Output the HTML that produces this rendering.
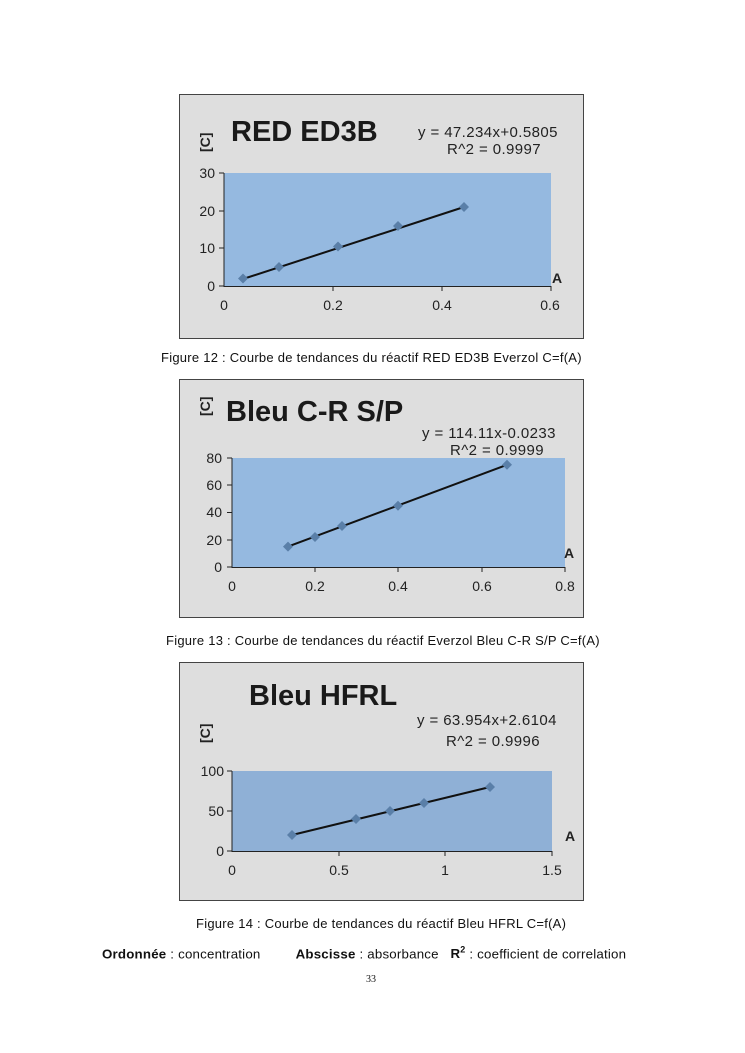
<!DOCTYPE html>
<html><head><meta charset="utf-8"><style>
body{margin:0;background:#fff;width:745px;height:1053px;position:relative;overflow:hidden}
svg{position:absolute;left:0;top:0}
.cap{position:absolute;font-family:"Liberation Sans",sans-serif;font-size:13px;letter-spacing:0.25px;color:#111;white-space:nowrap}
.eq{font-size:15px;letter-spacing:0.4px}
</style></head><body>
<svg width="745" height="1053" font-family="Liberation Sans, sans-serif">
<!-- Chart 1 -->
<rect x="179.5" y="94.5" width="404" height="244" fill="#dedede" stroke="#444" stroke-width="1"/>
<rect x="224" y="173" width="327" height="113" fill="#95b9e0"/>
<text x="231" y="141" font-size="29" font-weight="bold" fill="#1a1a1a">RED ED3B</text>
<text x="418" y="137" class="eq" fill="#222">y = 47.234x+0.5805</text>
<text x="447" y="154" class="eq" fill="#222">R^2 = 0.9997</text>
<text transform="translate(210,152) rotate(-90)" font-size="14" font-weight="bold" fill="#222">[C]</text>
<g stroke="#222" stroke-width="1"><line x1="224" y1="173" x2="224" y2="287"/><line x1="224" y1="286.5" x2="551" y2="286.5"/>
<line x1="219" y1="173" x2="224" y2="173"/><line x1="219" y1="211" x2="224" y2="211"/><line x1="219" y1="248" x2="224" y2="248"/><line x1="219" y1="286" x2="224" y2="286"/>
<line x1="333" y1="286" x2="333" y2="291"/><line x1="442" y1="286" x2="442" y2="291"/><line x1="551" y1="286" x2="551" y2="291"/></g>
<g font-size="14" fill="#222" text-anchor="end"><text x="215" y="178">30</text><text x="215" y="216">20</text><text x="215" y="253">10</text><text x="215" y="291">0</text></g>
<g font-size="14" fill="#222" text-anchor="middle"><text x="224" y="310">0</text><text x="333" y="310">0.2</text><text x="442" y="310">0.4</text><text x="550" y="310">0.6</text></g>
<text x="552" y="283" font-size="14" font-weight="bold" fill="#222">A</text>
<line x1="243" y1="279" x2="464" y2="207" stroke="#111" stroke-width="2"/>
<g fill="#5a7fa8"><path d="M243 273.5l5 5-5 5-5-5z"/><path d="M279 262l5 5-5 5-5-5z"/><path d="M338 241.5l5 5-5 5-5-5z"/><path d="M398 221l5 5-5 5-5-5z"/><path d="M464 202l5 5-5 5-5-5z"/></g>

<!-- Chart 2 -->
<rect x="179.5" y="379.5" width="404" height="238" fill="#dedede" stroke="#444" stroke-width="1"/>
<rect x="232" y="458" width="333" height="109" fill="#95b9e0"/>
<text x="226" y="421" font-size="29" font-weight="bold" fill="#1a1a1a">Bleu C-R S/P</text>
<text x="422" y="438" class="eq" fill="#222">y =  114.11x-0.0233</text>
<text x="450" y="455" class="eq" fill="#222">R^2 = 0.9999</text>
<text transform="translate(210,416) rotate(-90)" font-size="14" font-weight="bold" fill="#222">[C]</text>
<g stroke="#222" stroke-width="1"><line x1="232" y1="458" x2="232" y2="568"/><line x1="232" y1="567.5" x2="565" y2="567.5"/>
<line x1="227" y1="458" x2="232" y2="458"/><line x1="227" y1="485" x2="232" y2="485"/><line x1="227" y1="512.5" x2="232" y2="512.5"/><line x1="227" y1="540" x2="232" y2="540"/><line x1="227" y1="567" x2="232" y2="567"/>
<line x1="315" y1="567" x2="315" y2="572"/><line x1="398" y1="567" x2="398" y2="572"/><line x1="482" y1="567" x2="482" y2="572"/><line x1="565" y1="567" x2="565" y2="572"/></g>
<g font-size="14" fill="#222" text-anchor="end"><text x="222" y="463">80</text><text x="222" y="490">60</text><text x="222" y="517">40</text><text x="222" y="545">20</text><text x="222" y="572">0</text></g>
<g font-size="14" fill="#222" text-anchor="middle"><text x="232" y="591">0</text><text x="315" y="591">0.2</text><text x="398" y="591">0.4</text><text x="482" y="591">0.6</text><text x="565" y="591">0.8</text></g>
<text x="564" y="558" font-size="14" font-weight="bold" fill="#222">A</text>
<line x1="288" y1="546.6" x2="507" y2="464.8" stroke="#111" stroke-width="2"/>
<g fill="#5a7fa8"><path d="M288 541.6l5 5-5 5-5-5z"/><path d="M315 532l5 5-5 5-5-5z"/><path d="M342 521l5 5-5 5-5-5z"/><path d="M398 500.7l5 5-5 5-5-5z"/><path d="M507 459.8l5 5-5 5-5-5z"/></g>

<!-- Chart 3 -->
<rect x="179.5" y="662.5" width="404" height="238" fill="#dedede" stroke="#444" stroke-width="1"/>
<rect x="232" y="771" width="320" height="80" fill="#8fb0d6"/>
<text x="249" y="705" font-size="29" font-weight="bold" fill="#1a1a1a">Bleu HFRL</text>
<text x="417" y="725" class="eq" fill="#222">y =  63.954x+2.6104</text>
<text x="446" y="746" class="eq" fill="#222">R^2 = 0.9996</text>
<text transform="translate(210,743) rotate(-90)" font-size="14" font-weight="bold" fill="#222">[C]</text>
<g stroke="#222" stroke-width="1"><line x1="232" y1="771" x2="232" y2="852"/><line x1="232" y1="851.5" x2="552" y2="851.5"/>
<line x1="227" y1="771" x2="232" y2="771"/><line x1="227" y1="811" x2="232" y2="811"/><line x1="227" y1="851" x2="232" y2="851"/>
<line x1="339" y1="851" x2="339" y2="856"/><line x1="445" y1="851" x2="445" y2="856"/><line x1="552" y1="851" x2="552" y2="856"/></g>
<g font-size="14" fill="#222" text-anchor="end"><text x="224" y="776">100</text><text x="224" y="816">50</text><text x="224" y="856">0</text></g>
<g font-size="14" fill="#222" text-anchor="middle"><text x="232" y="875">0</text><text x="339" y="875">0.5</text><text x="445" y="875">1</text><text x="552" y="875">1.5</text></g>
<text x="565" y="841" font-size="14" font-weight="bold" fill="#222">A</text>
<line x1="292" y1="835" x2="490" y2="787" stroke="#111" stroke-width="2"/>
<g fill="#5a7fa8"><path d="M292 830l5 5-5 5-5-5z"/><path d="M356 814l5 5-5 5-5-5z"/><path d="M390 806l5 5-5 5-5-5z"/><path d="M424 798l5 5-5 5-5-5z"/><path d="M490 782l5 5-5 5-5-5z"/></g>
</svg>
<div class="cap" style="left:161px;top:350px">Figure 12 : Courbe de tendances du réactif RED ED3B Everzol C=f(A)</div>
<div class="cap" style="left:166px;top:633px">Figure 13 : Courbe de tendances du réactif Everzol Bleu C-R S/P C=f(A)</div>
<div class="cap" style="left:196px;top:916px">Figure 14 : Courbe de tendances du réactif Bleu HFRL C=f(A)</div>
<div class="cap" style="left:102px;top:945px;font-size:13.3px;letter-spacing:0.2px"><b>Ordonnée</b> : concentration&nbsp;&nbsp;&nbsp;&nbsp;&nbsp;&nbsp;&nbsp;&nbsp;&nbsp;<b>Abscisse</b> : absorbance&nbsp;&nbsp;&nbsp;<b>R<sup style="font-size:9px">2</sup></b> : coefficient de correlation</div>
<div class="cap" style="left:366px;top:974px;font-family:'Liberation Serif',serif;font-size:10px;letter-spacing:0">33</div>
</body></html>
